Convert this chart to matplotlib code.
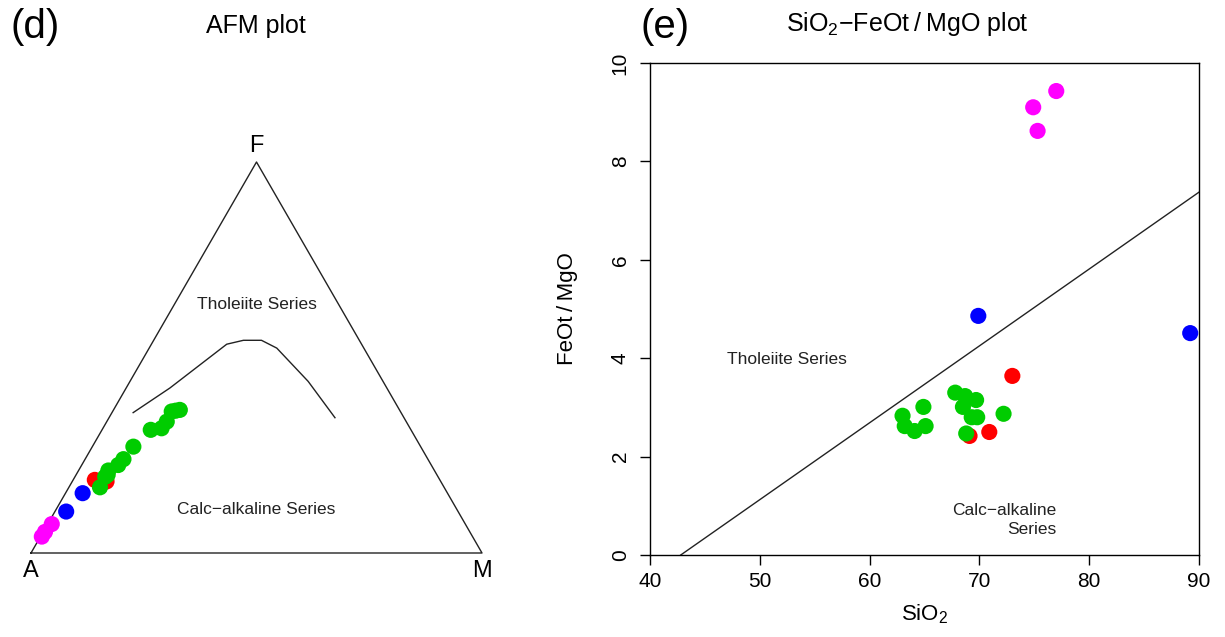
import numpy as np
import matplotlib
matplotlib.use('Agg')
import matplotlib.pyplot as plt

plt.rcParams['font.family'] = ['Liberation Sans', 'DejaVu Sans']
plt.rcParams['mathtext.fontset'] = 'custom'
plt.rcParams['mathtext.rm'] = 'Liberation Sans'
plt.rcParams['mathtext.it'] = 'Liberation Sans:italic'

# sample groups, drawn in this order (3 magenta, 2 blue, 3 red, 13 green)
group_colors = ['#FF00FF'] * 3 + ['#0000FF'] * 2 + ['#FF0000'] * 3 + ['#00CC00'] * 13

# AFM ternary values (wt%): A = Na2O+K2O, F = FeOt, M = MgO
afm_a = [95.6, 94.2, 91.7, 86.9, 80.9, 76.5, 74.1, 75.9,
         48.7, 49.7, 50.7, 53.1, 55.1, 57.7, 63.7, 67.5, 69.4, 72.3, 73.8, 73.0, 76.3]
afm_f = [4.2, 5.4, 7.4, 10.6, 15.3, 18.7, 18.3, 17.7,
         36.6, 36.4, 36.2, 33.6, 31.9, 31.5, 27.2, 24.0, 22.5, 21.1, 19.5, 20.0, 16.8]
afm_m = [0.3, 0.4, 0.9, 2.5, 3.8, 4.8, 7.6, 6.4,
         14.7, 13.9, 13.1, 13.3, 13.0, 10.8, 9.1, 8.5, 8.1, 6.6, 6.7, 7.0, 6.9]

# Irvine & Baragar (1971) tholeiite / calc-alkaline boundary (A, F, M)
bound_a = [59.4, 48.1, 29.9, 25.7, 21.7, 19.3, 16.6, 15.3]
bound_f = [35.9, 42.2, 53.4, 54.4, 54.4, 52.4, 43.9, 34.6]
bound_m = [4.7, 9.7, 16.7, 19.9, 23.9, 28.3, 39.5, 50.1]

# SiO2 vs FeOt/MgO
sio2 = [74.9, 77.0, 75.3, 69.9, 89.2, 73.0, 70.9, 69.1,
        63.0, 63.2, 64.1, 65.1, 64.9, 67.8, 68.7, 69.7, 68.5, 69.3, 69.8, 68.8, 72.2]
feo_mgo = [9.10, 9.43, 8.62, 4.86, 4.51, 3.64, 2.50, 2.42,
           2.83, 2.62, 2.52, 2.62, 3.01, 3.30, 3.23, 3.15, 3.01, 2.80, 2.80, 2.47, 2.87]

# Miyashiro (1974): SiO2 = 6.4 * FeOt/MgO + 42.8
miyashiro_sio2 = [42.8, 90.0]

x_ticks = [40, 50, 60, 70, 80, 90]
y_ticks = [0, 2, 4, 6, 8, 10]

H = np.sqrt(3) / 2
SLASH = '\u2009/\u2009'


def ternary_xy(a, f, m):
    a, f, m = np.asarray(a, float), np.asarray(f, float), np.asarray(m, float)
    tot = a + f + m
    f, m = f / tot, m / tot
    return m + f / 2, f * H


fig = plt.figure(figsize=(12.25, 6.37), dpi=100)

# ---- AFM plot ----
ax1 = fig.add_axes([31 / 1225, 84 / 637, 451 / 1225, 391 / 637])
ax1.set_xlim(0, 1)
ax1.set_ylim(0, H)
ax1.axis('off')

ax1.plot([0, 1, 0.5, 0], [0, 0, H, 0], color='#222222', lw=1.0, clip_on=False)
bx, by = ternary_xy(bound_a, bound_f, bound_m)
ax1.plot(bx, by, color='#222222', lw=1.0)

px, py = ternary_xy(afm_a, afm_f, afm_m)
ax1.scatter(px, py, s=135, c=group_colors, edgecolors='none', zorder=3, clip_on=False)

ax1.text(0, -0.015, 'A', ha='center', va='top', fontsize=17)
ax1.text(1, -0.015, 'M', ha='center', va='top', fontsize=17)
ax1.text(0.5, H + 0.012, 'F', ha='center', va='bottom', fontsize=17)
ax1.text(0.5, 0.55, 'Tholeiite Series', ha='center', va='center', fontsize=12.5, color='#222222')
ax1.text(0.5, 0.097, 'Calc\u2212alkaline Series', ha='center', va='center', fontsize=12.5,
         color='#222222')

fig.text(256 / 1225, 1 - 26 / 637, 'AFM plot', ha='center', va='center', fontsize=18)
fig.text(35 / 1225, 1 - 27 / 637, '(d)', ha='center', va='center', fontsize=29)

# ---- SiO2 - FeOt/MgO plot ----
ax2 = fig.add_axes([650 / 1225, 82 / 637, 549 / 1225, 492 / 637])
ax2.scatter(sio2, feo_mgo, s=135, c=group_colors, edgecolors='none', zorder=3)
ax2.plot(miyashiro_sio2, [(s - 42.8) / 6.4 for s in miyashiro_sio2], color='#222222', lw=1.0)

ax2.set_xlim(40, 90)
ax2.set_ylim(0, 10)
ax2.set_xticks(x_ticks)
ax2.set_yticks(y_ticks)
ax2.tick_params(direction='out', length=7.5, width=1, labelsize=15, pad=5)
ax2.tick_params(axis='y', labelrotation=90, pad=7)
for lab in ax2.get_yticklabels():
    lab.set_va('center')
for sp in ax2.spines.values():
    sp.set_linewidth(1.0)

ax2.set_xlabel('SiO$_2$', fontsize=16, labelpad=8)
ax2.set_ylabel('FeOt' + SLASH + 'MgO', fontsize=16, labelpad=24)

ax2.text(52.5, 3.98, 'Tholeiite Series', ha='center', va='center', fontsize=12.5, color='#222222')
ax2.text(72.3, 0.71, 'Calc\u2212alkaline\nSeries', ha='center', va='center', fontsize=12.5,
         color='#222222', multialignment='right', linespacing=1.3)

fig.text(907 / 1225, 1 - 24 / 637, 'SiO$_2$\u2212FeOt' + SLASH + 'MgO plot', ha='center',
         va='center', fontsize=18)
fig.text(665 / 1225, 1 - 27 / 637, '(e)', ha='center', va='center', fontsize=29)

fig.savefig('out.png', dpi=100, facecolor='white')
